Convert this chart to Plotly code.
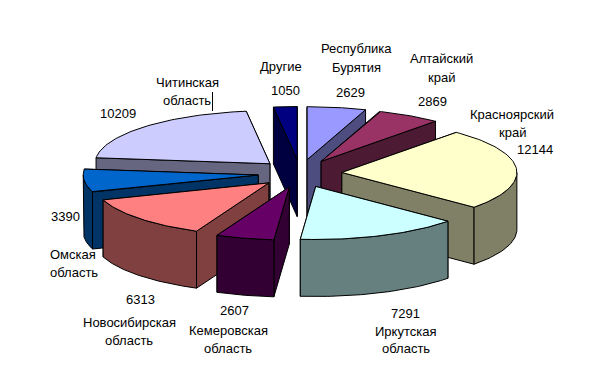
import math
import plotly.graph_objects as go

categories = ["Республика<br>Бурятия", "Алтайский<br>край", "Красноярский<br>край", "Иркутская<br>область",
              "Кемеровская<br>область", "Новосибирская<br>область", "Омская<br>область", "Читинская<br>область", "Другие"]
values = [2629, 2869, 12144, 7291, 2607, 6313, 3390, 10209, 1050]
top_colors = ["#9999FF", "#993366", "#FFFFCC", "#CCFFFF", "#660066", "#FF8080", "#0066CC", "#CCCCFF", "#000080"]
side_colors = ["#4D4D80", "#4D1A33", "#808066", "#668080", "#330033", "#804040", "#003366", "#666680", "#000040"]

# Pie geometry in page pixels
CX, CY, A, B, DEPTH = 300, 173.5, 175, 53, 57
EXPLODE_X, EXPLODE_Y = 42, 14
draw_order = [7, 8, 0, 1, 6, 2, 5, 4, 3]

# name-line centres and value centres for the labels
name_pos = [[(356, 48), (356, 67)], [(441, 58), (441, 77)], [(512, 114), (512, 132)], [(405, 331), (406, 348)],
            [(228, 330), (228, 348)], [(129, 322), (129, 340)], [(73, 254), (74, 272)], [(187, 82), (187, 100)], [(281, 66)]]
value_pos = [(350, 92), (432, 101), (535, 149), (405, 313), (234, 310), (140, 299), (65, 216), (118, 113), (285, 90)]

total = sum(values)
fig = go.Figure()


def poly(pts, color, name):
    fig.add_trace(go.Scatter(x=[p[0] for p in pts] + [pts[0][0]], y=[p[1] for p in pts] + [pts[0][1]],
                             mode="lines", fill="toself", fillcolor=color,
                             line=dict(color="#000000", width=1), name=name, hoverinfo="name", showlegend=False))


starts, ang = [], 0.0
for v in values:
    starts.append(ang)
    ang += v / total * 2 * math.pi

for i in draw_order:
    t0 = starts[i]
    t1 = t0 + values[i] / total * 2 * math.pi
    mid = (t0 + t1) / 2
    ax = CX + EXPLODE_X * math.sin(mid)
    ay = CY - EXPLODE_Y * math.cos(mid)
    pt = lambda t: (ax + A * math.sin(t), ay - B * math.cos(t))
    name = categories[i].replace("<br>", " ")
    walls = []
    for t in (t0, t1):
        p = pt(t)
        walls.append(((ay + p[1]) / 2, [(ax, ay), p, (p[0], p[1] + DEPTH), (ax, ay + DEPTH)]))
    n = 60
    arc_ts = [t0 + (t1 - t0) * k / n for k in range(n + 1)]
    front = [t for t in arc_ts if math.cos(t) <= 0]
    if front:
        up = [pt(t) for t in front]
        down = [(x, y + DEPTH) for x, y in reversed(up)]
        walls.append((max(p[1] for p in up), up + down))
    for _, w in sorted(walls, key=lambda w: w[0]):
        poly(w, side_colors[i], name)
    poly([(ax, ay)] + [pt(t) for t in arc_ts], top_colors[i], name)

font = dict(family="Liberation Sans, Arial, sans-serif", size=13, color="#000000")
ann = []
for i, cat in enumerate(categories):
    for line, (x, y) in zip(cat.split("<br>"), name_pos[i]):
        ann.append(dict(x=x, y=y, text=line, showarrow=False, font=font, xref="x", yref="y"))
    ann.append(dict(x=value_pos[i][0], y=value_pos[i][1], text=str(values[i]), showarrow=False, font=font, xref="x", yref="y"))

fig.update_layout(
    width=603, height=371, margin=dict(l=0, r=0, t=0, b=0), paper_bgcolor="#FFFFFF", plot_bgcolor="#FFFFFF",
    xaxis=dict(range=[0, 603], visible=False, fixedrange=True),
    yaxis=dict(range=[371, 0], visible=False, fixedrange=True),
    annotations=ann, showlegend=False,
    shapes=[dict(type="line", x0=212.5, x1=212.5, y0=92, y1=111, line=dict(color="#000000", width=1))],
)
fig.write_html("out.html", config=dict(displayModeBar=False),
               post_script="document.body.style.margin='0';document.documentElement.style.overflow='hidden';")
